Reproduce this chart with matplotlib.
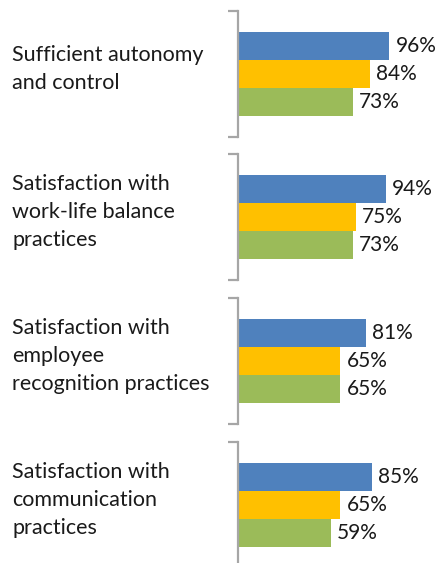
import matplotlib
matplotlib.use("Agg")
import matplotlib.pyplot as plt

# data
categories = [
    "Sufficient autonomy\nand control",
    "Satisfaction with\nwork-life balance\npractices",
    "Satisfaction with\nemployee\nrecognition practices",
    "Satisfaction with\ncommunication\npractices",
]
blue_vals = [96, 94, 81, 85]
yellow_vals = [84, 75, 65, 65]
green_vals = [73, 73, 65, 59]

colors = ["#4F81BD", "#FFC000", "#9BBB59"]
axis_gray = "#A6A6A6"
text_color = "#1a1a1a"

W, H = 442, 563
fig = plt.figure(figsize=(W / 100, H / 100), dpi=100)
plt.rcParams["font.family"] = ["Lato", "DejaVu Sans"]

panel_tops = [11, 154, 298, 442]   # pixel top of each bracket
panel_h = 126
ax_left = 237.5
ax_w = 158.3   # pixels for 0..100 %

for k, cat in enumerate(categories):
    top = panel_tops[k]
    ax = fig.add_axes([ax_left / W, 1 - (top + panel_h) / H, ax_w / W, panel_h / H])
    vals = [blue_vals[k], yellow_vals[k], green_vals[k]]
    ax.barh([0, 1, 2], vals, height=1.0, color=colors, linewidth=0)
    ax.set_xlim(0, 100)
    ax.set_ylim(3.25, -1.25)
    for i, v in enumerate(vals):
        ax.text(v + 3.8, i, f"{v}%", va="center", ha="left",
                fontsize=15, color=text_color, clip_on=False)
    for s in ["top", "right", "bottom"]:
        ax.spines[s].set_visible(False)
    ax.spines["left"].set_color(axis_gray)
    ax.spines["left"].set_linewidth(1.6)
    ax.set_xticks([])
    ax.set_yticks([3.25, -1.25])
    ax.set_yticklabels([])
    ax.tick_params(axis="y", direction="out", length=7.2, width=1.6, color=axis_gray)
    ax.patch.set_alpha(0)

    fig.text(12 / W, 1 - (top + panel_h / 2 - 5) / H, cat, ha="left", va="center",
             fontsize=15.5, color=text_color, linespacing=1.47)

fig.savefig("out.png", dpi=100)
